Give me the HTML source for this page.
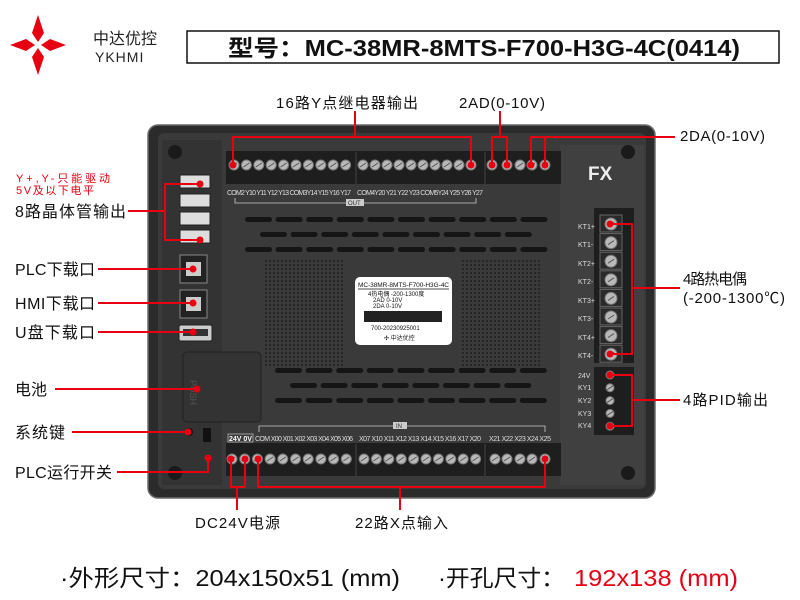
<!DOCTYPE html>
<html><head><meta charset="utf-8"><style>
html,body{margin:0;padding:0;background:#fff;width:800px;height:600px;overflow:hidden}
svg{display:block;font-family:"Liberation Sans","Noto Sans CJK SC",sans-serif}
</style></head><body>
<svg id="s" width="800" height="600" viewBox="0 0 800 600" xmlns="http://www.w3.org/2000/svg">
<g fill="#e60012">
<polygon points="38,15 44,33 38,42 32,33"/>
<polygon points="38,48 44,57 38,75 32,57"/>
<polygon points="10,45 26,39 35,45 26,51"/>
<polygon points="41,45 50,39 66,45 50,51"/>
</g>
<text x="93" y="44" font-size="16" fill="#222">中达优控</text>
<text x="95" y="62" font-size="14" fill="#222" letter-spacing="1">YKHMI</text>
<rect x="187" y="31" width="592" height="32" fill="#fff" stroke="#111" stroke-width="1.5"/>
<text x="228" y="56" font-size="23" font-weight="bold" fill="#111" textLength="512" lengthAdjust="spacingAndGlyphs">型号：MC-38MR-8MTS-F700-H3G-4C(0414)</text>

<rect x="148" y="125" width="507" height="373" rx="10" fill="#2b2b2b" stroke="#6a6a6a" stroke-width="1.5"/>
<rect x="158" y="133" width="488" height="356" rx="6" fill="#3a3a3a"/>
<rect x="162" y="140" width="60" height="345" fill="#333"/>
<rect x="560" y="145" width="84" height="340" fill="#404040"/>
<circle cx="175" cy="152" r="7" fill="#1a1a1a"/>
<circle cx="628" cy="152" r="7" fill="#1a1a1a"/>
<circle cx="175" cy="473" r="7" fill="#1a1a1a"/>
<circle cx="628" cy="473" r="7" fill="#1a1a1a"/>
<text x="588" y="180" font-size="19" font-weight="bold" fill="#eee">FX</text>
<rect x="226" y="151" width="335" height="33" fill="#1e1e1e"/>
<line x1="356" y1="152" x2="356" y2="184" stroke="#444"/>
<line x1="485" y1="152" x2="485" y2="184" stroke="#444"/>
<rect x="226" y="443" width="335" height="33" fill="#1e1e1e"/>
<line x1="356" y1="444" x2="356" y2="476" stroke="#444"/>
<line x1="485" y1="444" x2="485" y2="476" stroke="#444"/>
<rect x="594" y="208" width="40" height="155" fill="#1e1e1e"/>
<rect x="594" y="367" width="40" height="68" fill="#1e1e1e"/>
<g id="dyn"></g>
<text x="227" y="195" font-size="7" fill="#ddd" textLength="124">COM2 Y10 Y11 Y12 Y13 COM3Y14 Y15 Y16 Y17</text>
<text x="357" y="195" font-size="7" fill="#ddd" textLength="126">COM4Y20 Y21 Y22 Y23 COM5Y24 Y25 Y26 Y27</text>
<path d="M235 198 V203 H476 V198" fill="none" stroke="#ccc" stroke-width="0.8"/>
<rect x="346" y="199" width="18" height="7" fill="#ccc"/><text x="348" y="205" font-size="6" fill="#333">OUT</text>
<text x="229" y="441" font-size="7" fill="#fff" font-weight="bold">24V 0V</text>
<rect x="228" y="434" width="25" height="8" fill="none" stroke="#ddd" stroke-width="0.6"/>
<text x="255" y="441" font-size="7" fill="#ddd" textLength="98">COM X00 X01 X02 X03 X04 X05 X06</text>
<text x="359" y="441" font-size="7" fill="#ddd" textLength="122">X07 X10 X11 X12 X13 X14 X15 X16 X17 X20</text>
<text x="489" y="441" font-size="7" fill="#ddd" textLength="62">X21 X22 X23 X24 X25</text>
<path d="M259 432 V426 H545 V432" fill="none" stroke="#ccc" stroke-width="0.8"/>
<rect x="393" y="422" width="14" height="7" fill="#ccc"/><text x="396" y="428" font-size="6" fill="#333">IN</text>
<g font-size="7" fill="#ddd">
<text x="578" y="229">KT1+</text><text x="578" y="247">KT1-</text>
<text x="578" y="266">KT2+</text><text x="578" y="284">KT2-</text>
<text x="578" y="303">KT3+</text><text x="578" y="321">KT3-</text>
<text x="578" y="340">KT4+</text><text x="578" y="358">KT4-</text>
<text x="578" y="378">24V</text><text x="578" y="390">KY1</text>
<text x="578" y="403">KY2</text><text x="578" y="416">KY3</text><text x="578" y="428">KY4</text>
</g>
<rect x="355" y="277" width="97" height="68" rx="5" fill="#fff"/>
<text x="358" y="287" font-size="6.5" fill="#111" textLength="91">MC-38MR-8MTS-F700-H3G-4C</text>
<line x1="358" y1="289" x2="449" y2="289" stroke="#111" stroke-width="0.7"/>
<text x="368" y="296" font-size="6" fill="#111">4热电偶   -200-1300度</text>
<text x="373" y="302" font-size="6" fill="#111">2AD          0-10V</text>
<text x="373" y="308" font-size="6" fill="#111">2DA          0-10V</text>
<rect x="364" y="311" width="78" height="11" fill="#222"/>
<text x="371" y="330" font-size="6" fill="#111">700-20230925001</text>
<text x="384" y="340" font-size="6" fill="#111">✣ 中达优控</text>
<g fill="#ddd" stroke="#222">
<rect x="180" y="175" width="30" height="13"/><rect x="180" y="194" width="30" height="13"/>
<rect x="180" y="212" width="30" height="13"/><rect x="180" y="230" width="30" height="13"/>
</g>
<rect x="180" y="255" width="27" height="28" fill="#222" stroke="#888"/><rect x="186" y="262" width="15" height="14" fill="#ccc"/>
<rect x="180" y="290" width="27" height="28" fill="#222" stroke="#888"/><rect x="186" y="297" width="15" height="14" fill="#ccc"/>
<rect x="179" y="325" width="33" height="16" rx="2" fill="#ccc" stroke="#222"/><rect x="183" y="329" width="25" height="7" fill="#333"/>
<rect x="183" y="352" width="78" height="70" rx="4" fill="#333" stroke="#222"/>
<text x="205" y="395" font-size="9" fill="#555" transform="rotate(90 205 380)">PUSH</text>
<circle cx="189" cy="432" r="4" fill="#111"/>
<rect x="203" y="428" width="8" height="14" fill="#111"/>

<g stroke="#e60012" stroke-width="2" fill="none">
<path d="M355 111 V137 M233 165 V137 H471 V165"/>
<path d="M500 111 V137 M492 165 V137 H507 V165"/>
<path d="M675 137 H531 V165 M545 165 V137"/>
<path d="M610 224 H632 V354 H610 M632 288 H680"/>
<path d="M610 375 H632 V426 H610 M632 400 H680"/>
<path d="M237 510 V487 M231 459 V487 H245 V459"/>
<path d="M400 510 V487 M258 459 V487 H545 V459"/>
<path d="M128 211 H165 M200 184 H165 V240 H200"/>
<path d="M98 269 H193 M98 303 H193 M98 332 H193 M55 389 H197 M72 432 H188 M117 472 H208 V458"/>
</g>
<g fill="#e60012">
<circle cx="233" cy="165" r="3.5"/><circle cx="471" cy="165" r="3.5"/>
<circle cx="492" cy="165" r="3.5"/><circle cx="507" cy="165" r="3.5"/>
<circle cx="531" cy="165" r="3.5"/><circle cx="545" cy="165" r="3.5"/>
<circle cx="610" cy="224" r="3.5"/><circle cx="610" cy="354" r="3.5"/>
<circle cx="610" cy="375" r="3.5"/><circle cx="610" cy="426" r="3.5"/>
<circle cx="231" cy="459" r="3.5"/><circle cx="245" cy="459" r="3.5"/>
<circle cx="258" cy="459" r="3.5"/><circle cx="545" cy="459" r="3.5"/>
<circle cx="200" cy="184" r="3.5"/><circle cx="200" cy="240" r="3.5"/>
<circle cx="193" cy="269" r="3.5"/><circle cx="193" cy="303" r="3.5"/><circle cx="193" cy="332" r="3.5"/>
<circle cx="197" cy="389" r="3.5"/><circle cx="188" cy="432" r="3.5"/><circle cx="208" cy="458" r="3.5"/>
</g>
<g font-size="15" fill="#111" lengthAdjust="spacingAndGlyphs">
<text x="276" y="108" font-size="15" textLength="142">16路Y点继电器输出</text>
<text x="459" y="108" font-size="15" textLength="86">2AD(0-10V)</text>
<text x="680" y="141" font-size="15" textLength="85">2DA(0-10V)</text>
<text x="683" y="284" font-size="15" textLength="64">4路热电偶</text>
<text x="683" y="303" font-size="15" textLength="102">(-200-1300℃)</text>
<text x="683" y="405" font-size="15" textLength="85">4路PID输出</text>
<text x="195" y="528" font-size="15" textLength="85">DC24V电源</text>
<text x="355" y="528" font-size="15" textLength="93">22路X点输入</text>
<text x="16" y="182" font-size="11" fill="#e60012" textLength="94">Y+,Y-只能驱动</text>
<text x="16" y="194" font-size="11" fill="#e60012" textLength="78">5V及以下电平</text>
<text x="15" y="217" font-size="16" textLength="111">8路晶体管输出</text>
<text x="15" y="275" font-size="16" textLength="80">PLC下载口</text>
<text x="15" y="309" font-size="16" textLength="80">HMI下载口</text>
<text x="15" y="338" font-size="16" textLength="80">U盘下载口</text>
<text x="15" y="395" font-size="16" textLength="32">电池</text>
<text x="15" y="438" font-size="16" textLength="50">系统键</text>
<text x="15" y="478" font-size="16" textLength="97">PLC运行开关</text>
</g>
<text x="60" y="586" font-size="23" fill="#111" textLength="340" lengthAdjust="spacingAndGlyphs">·外形尺寸：204x150x51 (mm)</text>
<text x="438" y="586" font-size="23" fill="#111" textLength="127" lengthAdjust="spacingAndGlyphs">·开孔尺寸：</text>
<text x="574" y="586" font-size="23" fill="#e60012" textLength="164" lengthAdjust="spacingAndGlyphs">192x138 (mm)</text>
</svg>
<script>
var g=document.getElementById('dyn'),h='';
function sc(x,y,r){h+='<circle cx="'+x+'" cy="'+y+'" r="'+(r||5)+'" fill="#b8b8b8" stroke="#777" stroke-width="1"/><line x1="'+(x-3)+'" y1="'+(y+2)+'" x2="'+(x+3)+'" y2="'+(y-2)+'" stroke="#555"/>';}
var i;
for(i=0;i<10;i++){sc(234+i*12.4,165);sc(363+i*12,165);}
[492,507,520,532,545].forEach(function(x){sc(x,165);});
for(i=0;i<10;i++){sc(232+i*12.7,459);sc(364+i*12.4,459);}
[495,507,520,532,545].forEach(function(x){sc(x,459);});
for(i=0;i<8;i++){h+='<rect x="600" y="'+(215+i*18.6)+'" width="22" height="17" fill="#2a2a2a" stroke="#666"/>';sc(611,224+i*18.6,6);}
for(i=0;i<5;i++)sc(610,375+i*12.8,4);
function vr(y,x0,n,w,p){for(var k=0;k<n;k++)h+='<rect x="'+(x0+k*p)+'" y="'+y+'" width="'+w+'" height="5" rx="2.5" fill="#151515"/>';}
vr(217,245,10,27,30.6);vr(232,260,9,27,30.6);vr(247,245,10,27,30.6);
vr(368,275,9,27,30.6);vr(383,290,8,27,30.6);vr(398,275,9,27,30.6);
function grid(x0,y0,w,hh){for(var yy=y0;yy<y0+hh;yy+=4)for(var xx=x0;xx<x0+w;xx+=4)h+='<rect x="'+xx+'" y="'+yy+'" width="2" height="2" fill="#252525"/>';}
grid(265,260,80,105);grid(462,260,80,105);
g.innerHTML=h;
</script>
</body></html>
